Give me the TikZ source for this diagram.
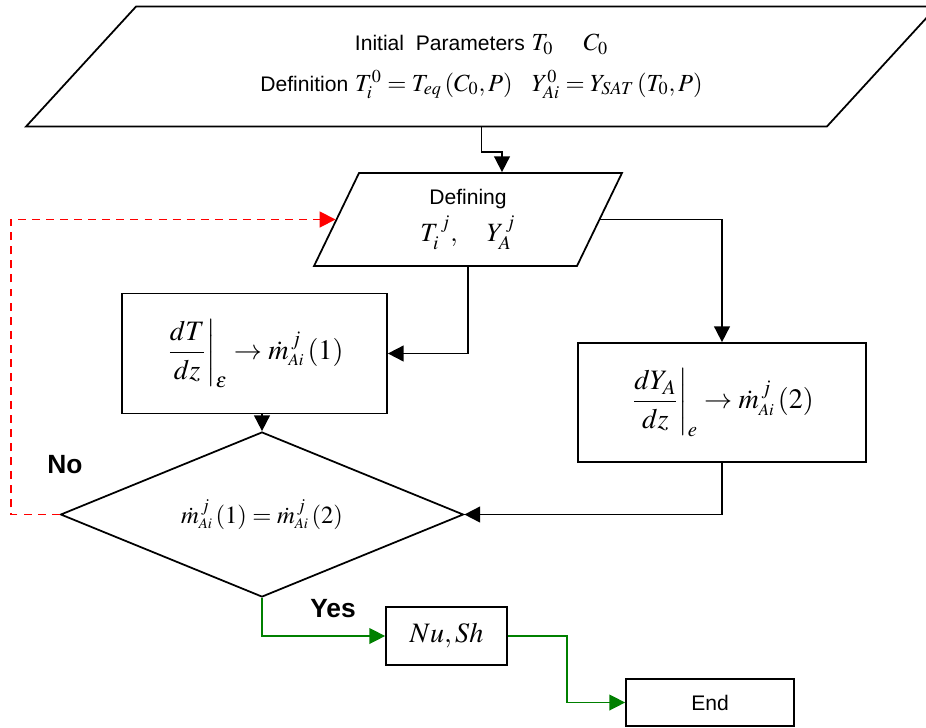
\documentclass[tikz,border=0pt]{standalone}
\usepackage{amsmath}
\usepackage{mathptmx}
\usepackage[no-math]{fontspec}
\setmainfont{Liberation Sans}
\usetikzlibrary{shapes.geometric}
\usetikzlibrary{arrows.meta}
\usetikzlibrary{calc}
\definecolor{yesgreen}{RGB}{0,128,0}
\newcommand{\flowtext}[1]{{\fontsize{12}{14}\selectfont #1}}
\newcommand{\mdotAi}{\dot{m}^{\,j}_{\scriptscriptstyle Ai}}
\tikzset{flowbox/.style={rectangle, draw, line width=1pt, inner sep=2pt, font=\fontsize{16}{19}\selectfont},
  iobox/.style={trapezium, draw, line width=1pt, trapezium stretches body, inner sep=2pt, align=center, font=\fontsize{14}{23}\selectfont},
  flowarr/.style={line width=1pt, -{Triangle[length=9pt,width=9pt]}},
  noarr/.style={red, line width=1pt, dash pattern=on 4.5pt off 3.5pt, -{Triangle[length=9pt,width=9pt]}},
  yesarr/.style={yesgreen, line width=0.8pt, -{Triangle[length=9pt,width=9pt]}},
  branchlbl/.style={font=\fontsize{15}{18}\selectfont\bfseries}}

\begin{document}
\begin{tikzpicture}[x=0.02cm, y=-0.02cm]

\useasboundingbox (0,0) rectangle (926,727);

\node[iobox, trapezium left angle=33.1, trapezium right angle=146.9, minimum width=18.22cm, minimum height=2.4cm] (init) at (481.5,66.5)
  {\flowtext{Initial\ \ Parameters} $T_0\quad\;C_0$\\ \flowtext{Definition} $T_i^0=T_{eq}\left(C_0,P\right)\;\;\;Y^0_{Ai}=Y_{SAT}\left(T_0,P\right)$};
\node[iobox, trapezium left angle=56.3, trapezium right angle=123.7, minimum width=6.16cm, minimum height=1.86cm, font=\fontsize{15}{21}\selectfont] (defn) at (468,219.5)
  {\flowtext{Defining}\\ $T_i^{\,j},\quad Y_A^{\,j}$};

\node[flowbox, minimum width=5.3cm, minimum height=2.4cm] (box1) at (254.5,353.5)
  {$\displaystyle\left.\frac{dT}{dz}\right|_{\varepsilon}\rightarrow\mdotAi\left(1\right)$};
\node[flowbox, minimum width=5.76cm, minimum height=2.38cm] (box2) at (722,402.5)
  {$\displaystyle\left.\frac{dY_A}{dz}\right|_{e}\rightarrow\mdotAi\left(2\right)$};

\node[diamond, draw, line width=1pt, inner sep=0pt, aspect=2.44, minimum width=8.06cm, minimum height=3.3cm, font=\fontsize{14}{17}\selectfont] (dec) at (262,514.5)
  {$\mdotAi\left(1\right)=\mdotAi\left(2\right)$};

\node[flowbox, minimum width=2.42cm, minimum height=1.16cm] (nush) at (446.5,636) {$Nu,Sh$};
\node[flowbox, minimum width=3.36cm, minimum height=0.94cm, font=\fontsize{12}{14}\selectfont] (endb) at (710,702.5) {End};

\node[branchlbl] (lblno) at (65,465) {No};
\node[branchlbl] (lblyes) at (333,609) {Yes};

\draw[flowarr] (init.south) -- ++(0,24.5) -| ($(defn.north)+(34,0)$);
\draw[flowarr] (defn.east) -| (box2.north);
\draw[flowarr] (defn.south) |- (box1.east);
\draw[flowarr] (box2.south) |- (dec.east);
\draw[flowarr] (box1.south -| dec.north) -- (dec.north);

\draw[noarr] (dec.west) -- ++(-49,0) |- (defn.west);

\draw[yesarr] (dec.south) |- (nush.west);
\draw[yesarr] (nush.east) -- ++(59,0) |- (endb.west);

\end{tikzpicture}
\end{document}
